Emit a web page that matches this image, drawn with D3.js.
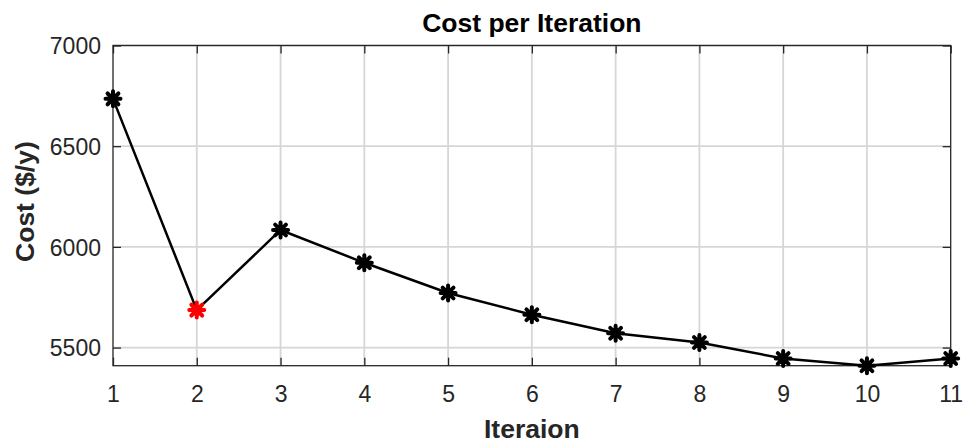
<!DOCTYPE html>
<meta charset="utf-8">
<script src="https://d3js.org/d3.v7.min.js"></script>
<style>
  body { margin: 0; background: #fff; }
  text { font-family: "Liberation Sans", Arial, sans-serif; }
</style>
<div id="chart"></div>
<script>
  // data
  const iterations = [1, 2, 3, 4, 5, 6, 7, 8, 9, 10, 11]
  const costs = [6735, 5686, 6084, 5921, 5771, 5663, 5571, 5525, 5446, 5410, 5446]
  const bestIndex = 1
  const xTicks = [1, 2, 3, 4, 5, 6, 7, 8, 9, 10, 11]
  const yTicks = [5500, 6000, 6500, 7000]

  const W = 970, H = 448
  const margin = {top: 45.5, right: 19.3, bottom: 82.3, left: 113}
  const width = W - margin.left - margin.right,
        height = H - margin.top - margin.bottom

  const svg = d3.select("#chart").append("svg")
      .attr("width", W).attr("height", H)

  const g = svg.append("g")
      .attr("transform", `translate(${margin.left},${margin.top})`)

  const x = d3.scaleLinear().domain([1, 11]).range([0, width])
  const y = d3.scaleLinear().domain([d3.min(costs), 7000]).range([height, 0])

  // grid
  g.append("g").selectAll("line").data(xTicks.slice(1, -1)).join("line")
      .attr("x1", d => x(d)).attr("x2", d => x(d))
      .attr("y1", 0).attr("y2", height)
      .attr("stroke", "#d6d6d6").attr("stroke-width", 1.8)
  g.append("g").selectAll("line").data(yTicks).join("line")
      .attr("x1", 0).attr("x2", width)
      .attr("y1", d => y(d)).attr("y2", d => y(d))
      .attr("stroke", "#d6d6d6").attr("stroke-width", 1.8)

  // box
  g.append("rect").attr("width", width).attr("height", height)
      .attr("fill", "none").attr("stroke", "#262626").attr("stroke-width", 1.3)

  // axes with inward ticks
  const xAxis = g.append("g").attr("transform", `translate(0,${height})`)
      .call(d3.axisBottom(x).tickValues(xTicks).tickFormat(d3.format("d"))
        .tickSizeInner(-8).tickSizeOuter(0).tickPadding(20))
  const xAxisTop = g.append("g")
      .call(d3.axisTop(x).tickValues(xTicks).tickFormat("")
        .tickSizeInner(-8).tickSizeOuter(0))
  const yAxis = g.append("g")
      .call(d3.axisLeft(y).tickValues(yTicks).tickFormat(d3.format("d"))
        .tickSizeInner(-8).tickSizeOuter(0).tickPadding(12))
  const yAxisRight = g.append("g").attr("transform", `translate(${width},0)`)
      .call(d3.axisRight(y).tickValues(yTicks).tickFormat("")
        .tickSizeInner(-8).tickSizeOuter(0))

  ;[xAxis, xAxisTop, yAxis, yAxisRight].forEach(a => {
    a.select(".domain").remove()
    a.selectAll("line").attr("stroke", "#262626").attr("stroke-width", 1.3)
    a.selectAll("text").attr("fill", "#262626")
      .style("font-size", "23px").style("font-family", "'Liberation Sans', Arial, sans-serif")
  })
  yAxis.selectAll("text").attr("dy", "0.36em")

  // line
  const pts = iterations.map((d, i) => ({it: d, cost: costs[i], i: i}))
  g.append("path").datum(pts)
      .attr("d", d3.line().x(d => x(d.it)).y(d => y(d.cost)))
      .attr("fill", "none").attr("stroke", "#000").attr("stroke-width", 2.5)

  // asterisk markers
  const r = 7.5
  const star = `M${-r},0L${r},0M0,${-r}L0,${r}` +
    `M${-r*0.72},${-r*0.72}L${r*0.72},${r*0.72}M${-r*0.72},${r*0.72}L${r*0.72},${-r*0.72}`
  g.append("g").selectAll("path").data(pts).join("path")
      .attr("transform", d => `translate(${x(d.it)},${y(d.cost)})`)
      .attr("d", star)
      .attr("fill", "none")
      .attr("stroke", d => d.i === bestIndex ? "#ff0000" : "#000")
      .attr("stroke-width", 4)
      .attr("stroke-linecap", "round")

  // title and labels
  svg.append("text")
      .attr("x", margin.left + width / 2).attr("y", 32)
      .attr("text-anchor", "middle")
      .style("font-size", "26.5px").style("font-weight", "bold")
      .text("Cost per Iteration")

  svg.append("text")
      .attr("x", margin.left + width / 2).attr("y", 438)
      .attr("text-anchor", "middle").attr("fill", "#262626")
      .style("font-size", "26.5px").style("font-weight", "bold")
      .text("Iteraion")

  svg.append("text")
      .attr("transform", `translate(34,${margin.top + y(6225)}) rotate(-90)`)
      .attr("text-anchor", "middle").attr("fill", "#262626")
      .style("font-size", "26.5px").style("font-weight", "bold")
      .text("Cost ($/y)")
</script>
